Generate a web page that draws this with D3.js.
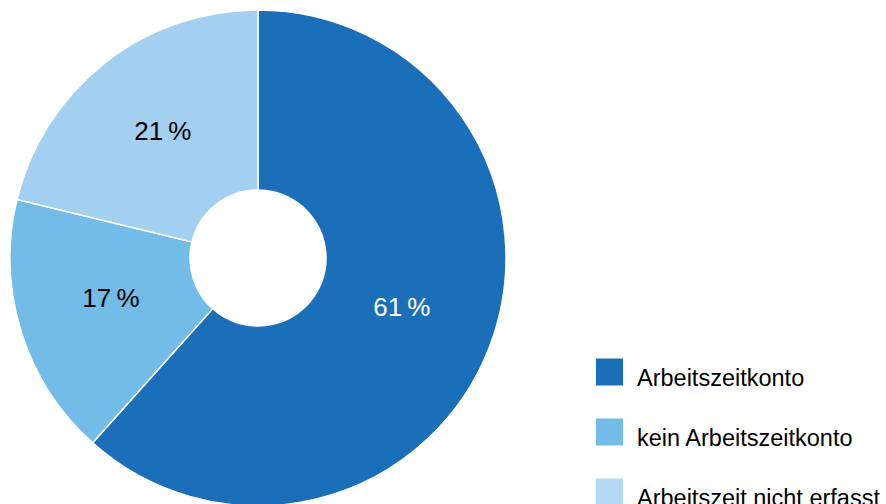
<!DOCTYPE html>
<html>
<head>
<meta charset="utf-8">
<script src="https://cdn.jsdelivr.net/npm/d3@7"></script>
<style>
  html, body { margin: 0; padding: 0; background: #fff; }
  body { width: 886px; height: 504px; overflow: hidden; }
  text { font-family: "Liberation Sans", Arial, sans-serif; }
</style>
</head>
<body>
<script>
// data
const kategorien = ["Arbeitszeitkonto", "kein Arbeitszeitkonto", "Arbeitszeit nicht erfasst"];
const anteile = [61, 17, 21];
const farben = ["#1b6fb8", "#74bce8", "#a3d0f0"];
const legendeFarben = ["#1b6fb8", "#74bce8", "#b3d8f3"];
const labelFarben = ["#ffffff", "#000000", "#000000"];

var width = 886;
var height = 504;

const svg = d3
  .select("body")
  .append("svg")
  .attr("width", width)
  .attr("height", height);

const cx = 258, cy = 258;
const outer = 248, inner = 68;

const pie = d3.pie().sort(null).value((d) => d);
const arc = d3.arc().innerRadius(inner).outerRadius(outer);
const labelArc = d3.arc().innerRadius(154).outerRadius(154);

const g = svg.append("g").attr("transform", `translate(${cx},${cy})`);

const stuecke = pie(anteile);

g.selectAll("path")
  .data(stuecke)
  .enter()
  .append("path")
  .attr("d", arc)
  .attr("fill", (d, i) => farben[i])
  .attr("stroke", "#fff")
  .attr("stroke-width", 1.5);

g.selectAll("text")
  .data(stuecke)
  .enter()
  .append("text")
  .attr("transform", (d) => `translate(${labelArc.centroid(d)})`)
  .attr("text-anchor", "middle")
  .attr("dy", "0.12em")
  .attr("font-size", 26)
  .attr("fill", (d, i) => labelFarben[i])
  .text((d) => d.data + "\u2009%");

// legend
const y = d3.scalePoint().domain(kategorien).range([372, 492]);

const leg = svg.append("g");
leg.selectAll("rect")
  .data(kategorien)
  .enter()
  .append("rect")
  .attr("x", 596)
  .attr("y", (d) => y(d) - 13.5)
  .attr("width", 27)
  .attr("height", 27)
  .attr("fill", (d, i) => legendeFarben[i]);

leg.selectAll("text")
  .data(kategorien)
  .enter()
  .append("text")
  .attr("x", 637)
  .attr("y", (d) => y(d) + 14)
  .attr("font-size", 23.5)
  .attr("fill", "#000")
  .text((d) => d);
</script>
</body>
</html>
